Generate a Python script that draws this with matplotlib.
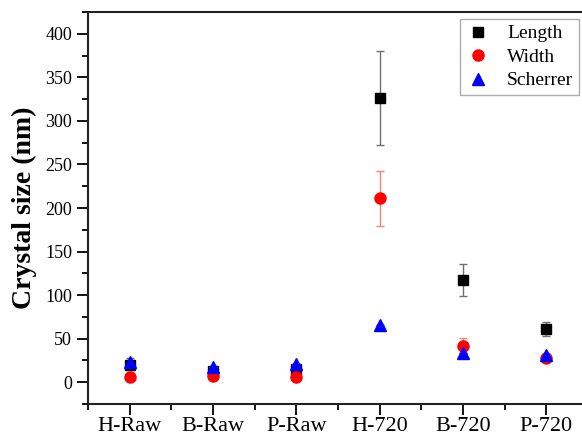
import matplotlib
matplotlib.use("Agg")
import matplotlib.pyplot as plt
from matplotlib.ticker import MultipleLocator
from matplotlib.lines import Line2D
import numpy as np

categories = ["H-Raw", "B-Raw", "P-Raw", "H-720", "B-720", "P-720"]
length_vals = [20, 13, 15, 326, 117, 61]
length_err = [6, 3, 3, 54, 18.5, 8]
width_vals = [6, 7, 6, 211, 42, 28]
width_err = [1, 1, 1, 32, 9, 2]
scherrer_vals = [23, 17, 21, 66, 33, 31]
scherrer_err = [5, 0, 0, 0, 0, 0]

plt.rcParams['font.family'] = ['Liberation Serif', 'DejaVu Serif']

W, H = 582, 437
fig = plt.figure(figsize=(W / 100, H / 100), dpi=100)
ax = fig.add_axes([88 / W, (H - 404) / H, 500 / W, (404 - 12) / H])

x = np.arange(1, len(categories) + 1)

ax.errorbar(x, length_vals, yerr=length_err, fmt='s', color='black', ms=7,
            ecolor='#707070', elinewidth=1, capsize=3, capthick=1, zorder=3)
ax.errorbar(x, width_vals, yerr=width_err, fmt='o', color='red', ms=8,
            ecolor='#ff8080', elinewidth=1, capsize=3, capthick=1, zorder=3)
ax.errorbar(x, scherrer_vals, yerr=scherrer_err, fmt='^', color='blue', ms=8,
            ecolor='#707070', elinewidth=1, capsize=3, capthick=1, zorder=4)

ax.set_xlim(0.5, 6.5)
ax.set_ylim(-25, 425)
ax.set_xticks(x)
ax.set_xticklabels(categories, fontsize=16)
ax.xaxis.set_minor_locator(MultipleLocator(0.5))
ax.set_yticks(np.arange(0, 401, 50))
ax.yaxis.set_minor_locator(MultipleLocator(25))
ax.tick_params(axis='y', labelsize=13)
ax.tick_params(which='major', direction='out', length=8, width=1.3)
ax.tick_params(which='minor', direction='out', length=4, width=1.3)
ax.tick_params(axis='x', which='major', pad=1.5)
for s in ax.spines.values():
    s.set_linewidth(1.5)
    s.set_color('#222222')

ax.set_ylabel('Crystal size (nm)', fontsize=20, fontweight='bold', labelpad=6)

handles = [
    Line2D([], [], marker='s', color='black', ls='none', ms=7),
    Line2D([], [], marker='o', color='red', ls='none', ms=8),
    Line2D([], [], marker='^', color='blue', ls='none', ms=8),
]
leg = ax.legend(handles, ['Length', 'Width', 'Scherrer'], loc='upper right',
                bbox_to_anchor=(579 / W, 1 - 19 / H),
                bbox_transform=fig.transFigure, fontsize=14, frameon=True,
                fancybox=False, edgecolor='#999999', borderaxespad=0,
                handletextpad=0.9, borderpad=0.3, labelspacing=0.3, handlelength=1.2)
leg.get_frame().set_linewidth(1)

fig.savefig('out.png', dpi=100)
